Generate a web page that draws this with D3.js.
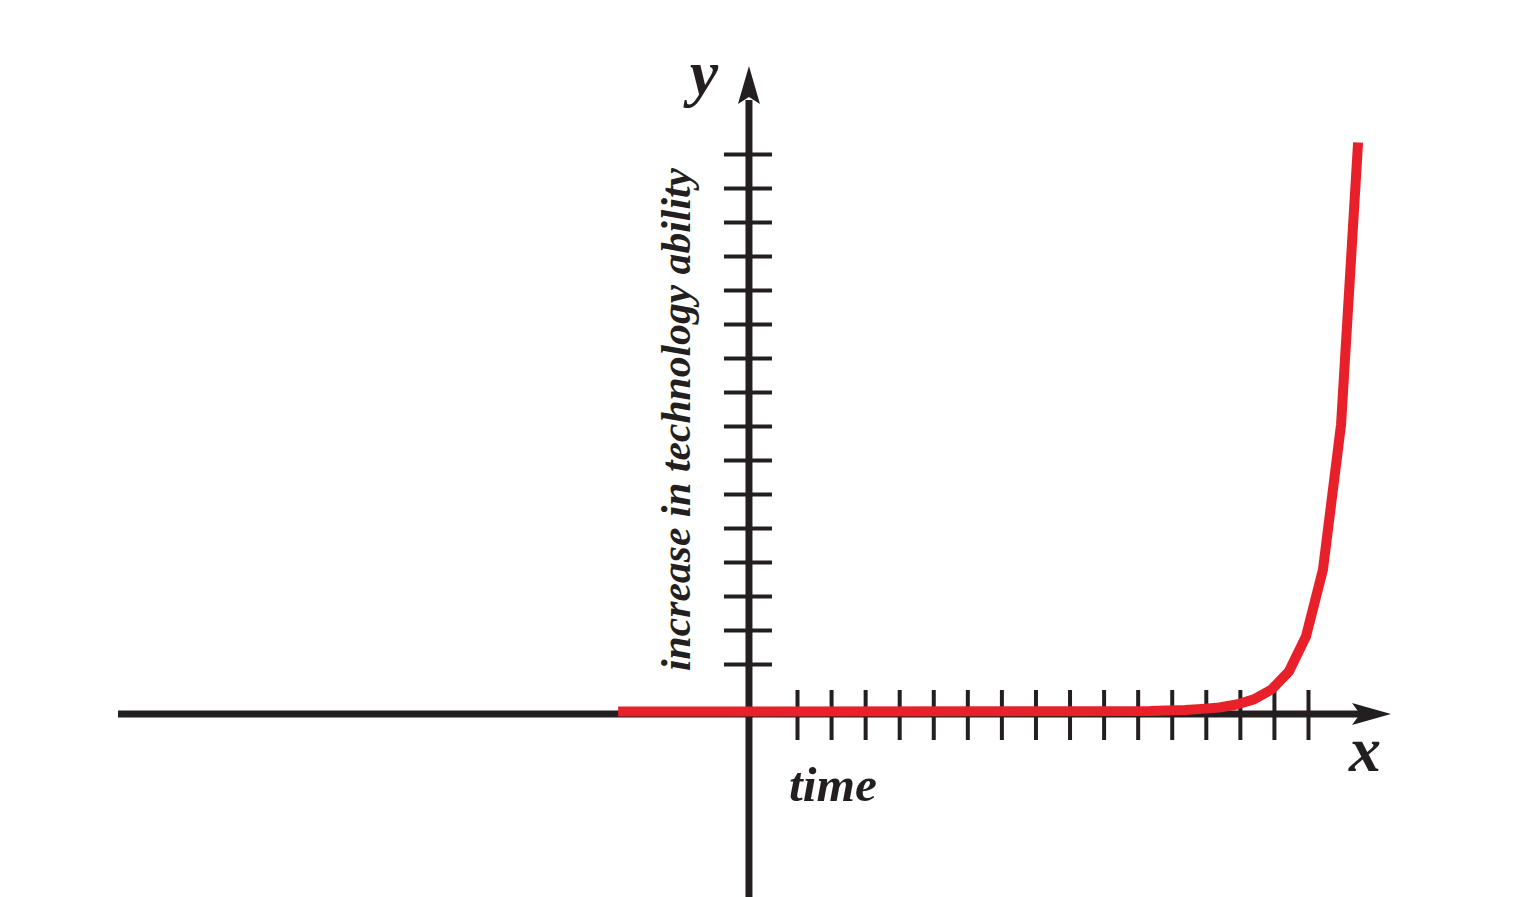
<!DOCTYPE html>
<html>
<head>
<meta charset="utf-8">
<script src="https://cdn.jsdelivr.net/npm/d3@7"></script>
<style>
  html, body { margin: 0; padding: 0; background: #ffffff; }
  svg { display: block; }
  .lbl { font-family: "Liberation Serif", "DejaVu Serif", serif; font-weight: bold; font-style: italic; fill: #231f20; }
</style>
</head>
<body>
<svg id="chart" width="1533" height="897"></svg>
<script>
// ---- data ----
const xTickValues = [1,2,3,4,5,6,7,8,9,10,11,12,13,14,15,16];
const yTickValues = [1,2,3,4,5,6,7,8,9,10,11,12,13,14,15,16];
const curveX = [-4.25, 11.36, 11.86, 12.39, 12.89, 13.40, 13.91, 14.41, 14.93, 15.44, 15.94, 16.44, 16.97, 17.47];
const curveY = [-0.40, -0.385, -0.37, -0.35, -0.32, -0.28, -0.19, -0.04, 0.25, 0.78, 1.81, 3.78, 8.04, 16.34];
const xLabel = "x";
const yLabel = "y";
const xTitle = "time";
const yTitle = "increase in technology ability";

// ---- layout ----
const svg = d3.select("#chart");
const W = 1533, H = 897;
const black = "#231f20", red = "#e8202a";

const x = d3.scaleLinear().domain([1, 16]).range([797, 1308]);
const y = d3.scaleLinear().domain([1, 16]).range([664, 154]);

const originX = x(-0.41); // where the y axis stands
const originY = y(-0.47); // where the x axis lies

// x axis line
svg.append("line")
  .attr("x1", 118).attr("x2", 1360)
  .attr("y1", originY).attr("y2", originY)
  .attr("stroke", black).attr("stroke-width", 7);
// x arrow head
svg.append("path")
  .attr("d", `M${1391},${originY} L${1352},${originY - 11} L${1360},${originY} L${1352},${originY + 11} Z`)
  .attr("fill", black);

// y axis line
svg.append("line")
  .attr("x1", originX).attr("x2", originX)
  .attr("y1", 100).attr("y2", H)
  .attr("stroke", black).attr("stroke-width", 7);
// y arrow head
svg.append("path")
  .attr("d", `M${originX},${66} L${originX - 11},${104} L${originX},${97} L${originX + 11},${104} Z`)
  .attr("fill", black);

// x ticks
const xAxis = d3.axisBottom(x).tickValues(xTickValues).tickSize(0).tickFormat("");
const gx = svg.append("g").attr("transform", `translate(0,${originY})`).call(xAxis);
gx.select(".domain").remove();
gx.selectAll(".tick").append("line")
  .attr("y1", -24).attr("y2", 26)
  .attr("stroke", black).attr("stroke-width", 4);

// y ticks
const yAxis = d3.axisLeft(y).tickValues(yTickValues).tickSize(0).tickFormat("");
const gy = svg.append("g").attr("transform", `translate(${originX},0)`).call(yAxis);
gy.select(".domain").remove();
gy.selectAll(".tick").append("line")
  .attr("x1", -25).attr("x2", 23)
  .attr("stroke", black).attr("stroke-width", 4);

// curve
const pts = curveX.map((d, i) => [d, curveY[i]]);
const line = d3.line().x(d => x(d[0])).y(d => y(d[1])).curve(d3.curveLinear);
svg.append("path")
  .attr("d", line(pts))
  .attr("fill", "none")
  .attr("stroke", red)
  .attr("stroke-width", 10)
  .attr("stroke-linecap", "butt")
  .attr("stroke-linejoin", "round");

// labels
svg.append("text").attr("class", "lbl")
  .attr("x", 704).attr("y", 94)
  .attr("text-anchor", "middle")
  .attr("font-size", 64)
  .text(yLabel);

svg.append("text").attr("class", "lbl")
  .attr("x", 1365).attr("y", 771)
  .attr("text-anchor", "middle")
  .attr("font-size", 64)
  .text(xLabel);

svg.append("text").attr("class", "lbl")
  .attr("x", 789).attr("y", 801)
  .attr("font-size", 48)
  .attr("textLength", 88).attr("lengthAdjust", "spacingAndGlyphs")
  .text(xTitle);

svg.append("text").attr("class", "lbl")
  .attr("transform", `translate(690,671) rotate(-90)`)
  .attr("font-size", 42)
  .attr("textLength", 503).attr("lengthAdjust", "spacingAndGlyphs")
  .text(yTitle);
</script>
</body>
</html>
